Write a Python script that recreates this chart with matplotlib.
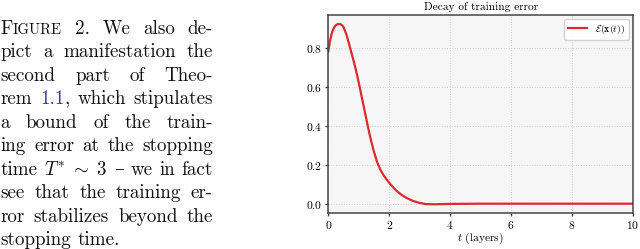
import matplotlib
matplotlib.use("Agg")
import matplotlib.pyplot as plt

plt.rcParams["font.family"] = "cmr10"
plt.rcParams["mathtext.fontset"] = "cm"
plt.rcParams["axes.formatter.use_mathtext"] = True

# training error curve
t_vals = [0.0, 0.05, 0.1, 0.15, 0.2, 0.25, 0.3, 0.35, 0.4, 0.45, 0.5, 0.6, 0.7,
          0.8, 0.9, 1.0, 1.1, 1.2, 1.3, 1.4, 1.5, 1.6, 1.7, 1.8, 1.9, 2.0, 2.1,
          2.2, 2.3, 2.4, 2.5, 2.6, 2.8, 3.0, 3.2, 3.5, 4.0, 5.0, 6.0, 8.0, 10.0]
err_vals = [0.78, 0.83, 0.865, 0.89, 0.905, 0.915, 0.92, 0.921, 0.92, 0.915, 0.905,
            0.865, 0.808, 0.75, 0.69, 0.62, 0.545, 0.47, 0.395, 0.325, 0.265, 0.215,
            0.177, 0.149, 0.127, 0.107, 0.089, 0.072, 0.058, 0.046, 0.036, 0.027,
            0.013, 0.004, -0.002, -0.003, -0.001, 0.0, 0.0, 0.0, 0.0]
x_ticks = [0, 2, 4, 6, 8, 10]
y_ticks = [0.0, 0.2, 0.4, 0.6, 0.8]

# caption text, one entry per printed line
# "|" splits a word into pieces, "^" = small caps piece, "@" = link colour
caption_lines = [
    "F|^IGURE 2. We also de-",
    "pict a manifestation the",
    "second part of Theo-",
    "rem @1.1|, which stipulates",
    "a bound of the train-",
    "ing error at the stopping",
    "time $T^{*}\\;\\sim\\;3$ \u2013 we in fact",
    "see that the training er-",
    "ror stabilizes beyond the",
    "stopping time.",
]

W, H = 640, 249
fig = plt.figure(figsize=(6.4, 2.49), dpi=100)

# --- caption on the left, justified by hand ---
cap_size = 13.7
left_px, right_px = 0.5, 213.0
first_base, line_step = 33.5, 23.5
renderer = fig.canvas.get_renderer()

for i, line in enumerate(caption_lines):
    base_y = 1 - (first_base + i * line_step) / H
    words = []
    for word in line.split(" "):
        pieces = []
        for piece in word.split("|"):
            size, color = cap_size, "#111111"
            if piece.startswith("^"):
                piece, size = piece[1:], cap_size * 0.78
            if piece.startswith("@"):
                piece, color = piece[1:], "#3535b0"
            txt = fig.text(0, base_y, piece, fontsize=size, color=color,
                           family=["cmr10", "DejaVu Serif"], va="baseline", ha="left")
            pieces.append(txt)
        words.append(pieces)

    widths = []
    for pieces in words:
        widths.append(sum(p.get_window_extent(renderer).width for p in pieces))

    if i == len(caption_lines) - 1:
        gap = cap_size * 100 / 72 * 0.333
    else:
        gap = (right_px - left_px - sum(widths)) / (len(words) - 1)

    x = left_px
    for pieces, w in zip(words, widths):
        px = x
        for p in pieces:
            p.set_x(px / W)
            px += p.get_window_extent(renderer).width
        x += w + gap

# --- chart on the right ---
ax = fig.add_axes([328.3 / W, 1 - 213.3 / H, (633 - 328.3) / W, (213.3 - 15) / H])
ax.set_facecolor("#f6f6f6")
ax.plot(t_vals, err_vals, color="#dc2a2e", lw=1.6, label=r"$\mathcal{E}(\mathbf{x}(t))$")
ax.set_xlim(0, 10)
ax.set_xticks(x_ticks)
ax.set_yticks(y_ticks)
ax.grid(True, ls=":", color="#cfcfcf", lw=0.7)
ax.set_axisbelow(True)

ax.set_title("Decay of training error", fontsize=8.2, pad=3.5)
ax.set_xlabel(r"$t$ (layers)", fontsize=8.2, labelpad=0)
ax.tick_params(labelsize=8.3, color="#404040", length=2.2, width=1.0, pad=2.0)
for s in ax.spines.values():
    s.set_color("#454545")
    s.set_linewidth(1.1)

ax.legend(loc="upper right", fontsize=7.0, handlelength=2.0, borderaxespad=0.4,
          fancybox=True, framealpha=0.9, edgecolor="#d0d0d0")

fig.savefig("out.png", dpi=100)
